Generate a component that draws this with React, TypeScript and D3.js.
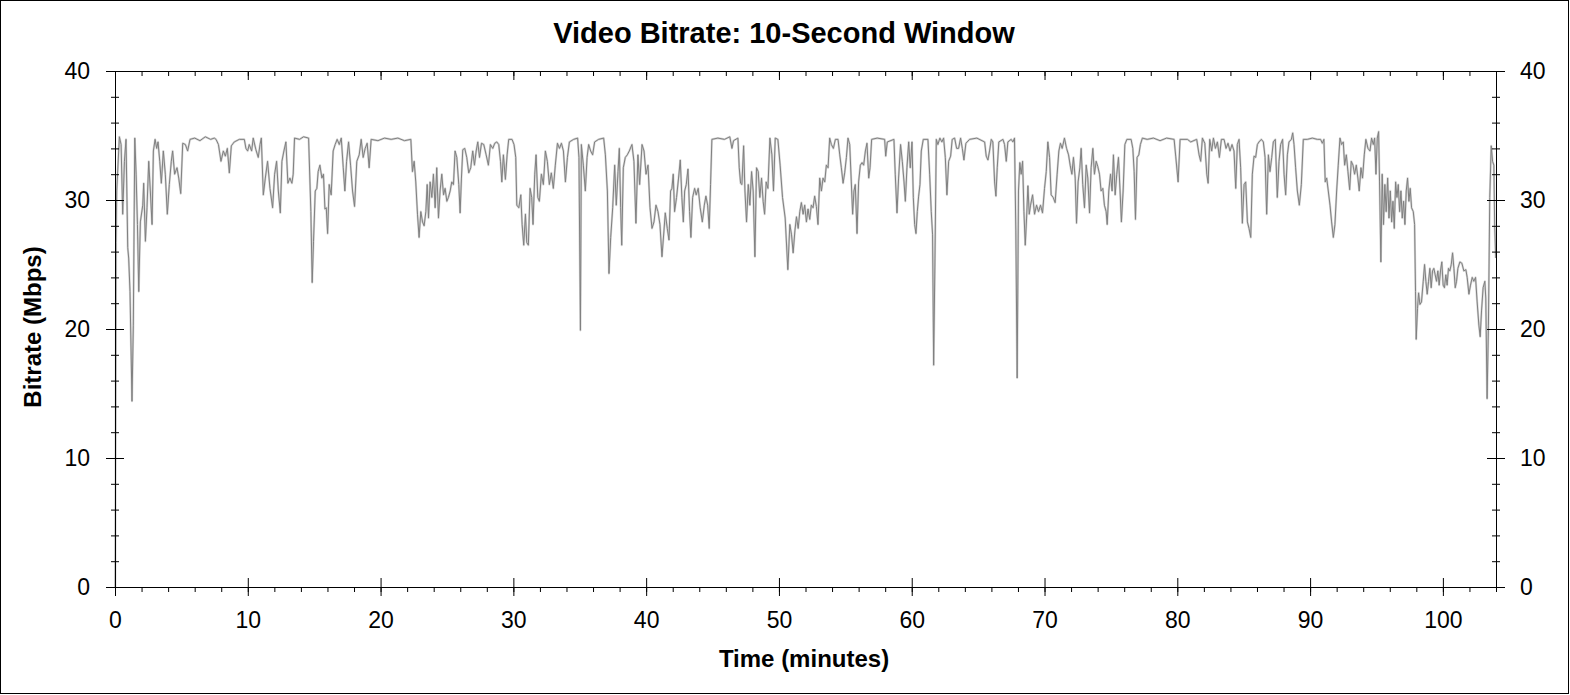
import React from 'react';
import {
  select,
  line,
  range,
  scaleLinear,
  axisBottom,
  axisTop,
  axisLeft,
  axisRight,
} from 'd3';

// time stamps (minutes) of the 10-second window samples
const minutes: number[] = [
  0.02, 0.08, 0.13, 0.33, 0.46, 0.58, 0.71, 0.83, 0.96, 1.03,
  1.13, 1.28, 1.38, 1.49, 1.59, 1.69, 1.79, 1.91, 2.09, 2.16,
  2.29, 2.41, 2.54, 2.66, 2.79, 2.89, 3.02, 3.14, 3.24, 3.37,
  3.49, 3.64, 3.79, 3.94, 4.09, 4.24, 4.34, 4.49, 4.67, 4.8,
  4.95, 5.1, 5.3, 5.47, 5.65, 6.0, 6.4, 6.8, 7.2, 7.48,
  7.61, 7.79, 7.98, 8.16, 8.31, 8.46, 8.61, 8.76, 8.98, 9.36,
  9.74, 9.86, 9.99, 10.11, 10.29, 10.41, 10.61, 10.79, 10.92, 11.02,
  11.17, 11.32, 11.49, 11.67, 11.87, 12.02, 12.17, 12.3, 12.45, 12.57,
  12.72, 12.87, 13.02, 13.17, 13.32, 13.42, 13.52, 13.9, 14.2, 14.58,
  14.75, 14.85, 14.95, 15.08, 15.2, 15.3, 15.43, 15.58, 15.7, 15.81,
  15.91, 16.01, 16.13, 16.28, 16.43, 16.58, 16.73, 16.89, 17.04, 17.19,
  17.31, 17.44, 17.59, 17.74, 17.89, 18.04, 18.21, 18.39, 18.54, 18.69,
  18.84, 18.99, 19.14, 19.29, 19.8, 20.3, 20.8, 21.3, 21.8, 22.28,
  22.4, 22.53, 22.65, 22.78, 22.9, 23.03, 23.16, 23.28, 23.41, 23.51,
  23.61, 23.73, 23.86, 23.98, 24.11, 24.23, 24.36, 24.48, 24.61, 24.74,
  24.86, 24.99, 25.11, 25.24, 25.36, 25.49, 25.61, 25.74, 25.89, 25.99,
  26.09, 26.19, 26.34, 26.49, 26.64, 26.79, 26.94, 27.07, 27.2, 27.32,
  27.45, 27.6, 27.77, 27.95, 28.12, 28.27, 28.45, 28.6, 28.75, 28.9,
  29.03, 29.13, 29.25, 29.4, 29.53, 29.65, 29.9, 30.05, 30.18, 30.26,
  30.41, 30.56, 30.66, 30.78, 30.91, 31.01, 31.13, 31.26, 31.38, 31.48,
  31.61, 31.71, 31.84, 31.96, 32.11, 32.26, 32.41, 32.56, 32.71, 32.86,
  33.01, 33.16, 33.32, 33.47, 33.62, 33.77, 33.92, 34.07, 34.22, 34.54,
  34.84, 34.94, 35.05, 35.12, 35.27, 35.42, 35.55, 35.67, 35.82, 35.97,
  36.12, 36.42, 36.8, 36.93, 37.08, 37.2, 37.33, 37.48, 37.63, 37.75,
  37.88, 37.98, 38.08, 38.16, 38.28, 38.43, 38.58, 38.73, 38.93, 39.08,
  39.23, 39.38, 39.51, 39.69, 39.84, 39.99, 40.14, 40.29, 40.44, 40.59,
  40.74, 40.89, 41.04, 41.19, 41.34, 41.44, 41.59, 41.72, 41.84, 41.94,
  42.04, 42.14, 42.29, 42.44, 42.57, 42.69, 42.8, 42.9, 43.02, 43.15,
  43.27, 43.37, 43.5, 43.65, 43.77, 43.92, 44.07, 44.23, 44.38, 44.5,
  44.63, 44.75, 44.85, 44.95, 45.4, 45.9, 46.3, 46.46, 46.58, 46.91,
  47.01, 47.11, 47.21, 47.34, 47.44, 47.56, 47.69, 47.81, 47.94, 48.06,
  48.19, 48.31, 48.44, 48.56, 48.69, 48.81, 48.92, 49.04, 49.17, 49.32,
  49.47, 49.59, 49.72, 49.92, 50.09, 50.27, 50.47, 50.67, 50.82, 50.95,
  51.07, 51.2, 51.32, 51.45, 51.57, 51.69, 51.82, 51.94, 52.07, 52.19,
  52.32, 52.44, 52.57, 52.69, 52.82, 52.94, 53.07, 53.2, 53.32, 53.45,
  53.57, 53.7, 53.82, 53.95, 54.1, 54.25, 54.45, 54.58, 54.7, 54.83,
  54.95, 55.08, 55.2, 55.33, 55.45, 55.55, 55.65, 55.75, 55.88, 56.0,
  56.13, 56.26, 56.38, 56.51, 56.63, 56.76, 56.86, 56.98, 57.4, 57.96,
  58.04, 58.16, 58.66, 58.76, 58.89, 59.01, 59.16, 59.29, 59.42, 59.52,
  59.64, 59.77, 59.89, 60.02, 60.12, 60.22, 60.32, 60.42, 60.52, 60.62,
  60.72, 60.87, 61.22, 61.35, 61.47, 61.57, 61.65, 61.75, 61.85, 61.97,
  62.12, 62.27, 62.4, 62.53, 62.65, 62.78, 62.93, 63.05, 63.23, 63.38,
  63.53, 63.68, 63.81, 63.93, 64.08, 64.36, 64.9, 65.49, 65.61, 65.74,
  65.86, 65.99, 66.11, 66.24, 66.34, 66.44, 66.56, 66.87, 66.99, 67.12,
  67.24, 67.49, 67.62, 67.74, 67.84, 67.94, 68.04, 68.14, 68.24, 68.35,
  68.45, 68.55, 68.65, 68.75, 68.85, 68.95, 69.1, 69.25, 69.4, 69.55,
  69.7, 69.85, 70.0, 70.13, 70.25, 70.38, 70.5, 70.65, 70.8, 70.95,
  71.08, 71.2, 71.33, 71.5, 71.66, 71.81, 71.93, 72.06, 72.18, 72.31,
  72.41, 72.53, 72.66, 72.76, 72.88, 73.01, 73.14, 73.26, 73.39, 73.51,
  73.64, 73.76, 73.89, 74.01, 74.14, 74.26, 74.39, 74.51, 74.64, 74.72,
  74.84, 74.97, 75.09, 75.19, 75.32, 75.44, 75.57, 75.69, 75.79, 75.92,
  76.05, 76.2, 76.52, 76.65, 76.75, 76.85, 76.97, 77.1, 77.22, 77.37,
  77.73, 78.2, 78.7, 79.2, 79.76, 79.88, 80.06, 80.21, 80.76, 81.01,
  81.46, 81.64, 81.76, 81.89, 82.07, 82.22, 82.32, 82.44, 82.59, 82.72,
  82.87, 83.02, 83.17, 83.32, 83.52, 83.67, 83.82, 83.97, 84.12, 84.27,
  84.4, 84.52, 84.65, 84.77, 84.9, 85.03, 85.15, 85.28, 85.4, 85.53,
  85.65, 85.78, 85.9, 86.03, 86.15, 86.33, 86.48, 86.61, 86.73, 86.86,
  86.98, 87.11, 87.23, 87.38, 87.53, 87.66, 87.78, 87.93, 88.04, 88.16,
  88.29, 88.41, 88.59, 88.69, 88.79, 88.91, 89.04, 89.19, 89.34, 89.49,
  89.79, 90.17, 90.54, 90.79, 90.92, 91.04, 91.14, 91.25, 91.37, 91.5,
  91.62, 91.75, 91.87, 92.0, 92.12, 92.25, 92.37, 92.5, 92.6, 92.73,
  92.85, 92.98, 93.1, 93.23, 93.35, 93.48, 93.6, 93.7, 93.83, 93.95,
  94.08, 94.2, 94.36, 94.51, 94.63, 94.76, 94.86, 94.96, 95.06, 95.16,
  95.23, 95.33, 95.43, 95.53, 95.63, 95.73, 95.84, 95.94, 96.04, 96.14,
  96.24, 96.34, 96.44, 96.54, 96.64, 96.74, 96.84, 96.94, 97.04, 97.14,
  97.24, 97.34, 97.44, 97.54, 97.64, 97.77, 97.87, 97.94, 97.99, 98.09,
  98.17, 98.27, 98.39, 98.52, 98.62, 98.72, 98.82, 98.92, 99.02, 99.12,
  99.22, 99.32, 99.42, 99.52, 99.62, 99.72, 99.82, 99.92, 100.02, 100.12,
  100.22, 100.32, 100.42, 100.52, 100.63, 100.73, 100.83, 100.93, 101.03, 101.13,
  101.28, 101.43, 101.58, 101.73, 101.83, 101.96, 102.08, 102.21, 102.33, 102.46,
  102.58, 102.71, 102.81, 102.91, 103.03, 103.16, 103.23, 103.33, 103.43, 103.53,
  103.64, 103.74, 103.84, 103.9, 103.98,
];

// bitrate (Mbps) at each time stamp
const mbps: number[] = [
  0, 26.7, 30.7, 34.9, 34.3, 28.9, 33.0, 34.7, 26.3, 25.5,
  22.9, 14.4, 20.3, 34.8, 32.0, 28.1, 22.9, 28.3, 29.6, 31.3,
  26.8, 29.4, 33.0, 30.7, 28.1, 33.8, 34.7, 34.0, 34.5, 33.0,
  31.3, 33.8, 32.0, 28.9, 31.2, 33.0, 33.8, 32.0, 32.5, 31.7,
  30.5, 34.4, 34.3, 33.8, 34.7, 34.8, 34.6, 34.9, 34.7, 34.8,
  34.7, 34.3, 33.0, 33.8, 33.4, 34.0, 32.1, 34.2, 34.5, 34.7,
  34.7, 34.0, 33.8, 34.3, 33.8, 34.8, 33.9, 33.3, 34.3, 34.8,
  30.4, 31.7, 33.0, 30.9, 29.4, 32.0, 33.0, 30.7, 29.0, 33.0,
  33.8, 34.5, 31.3, 31.7, 31.3, 32.0, 34.8, 34.7, 34.9, 34.8,
  29.1, 23.6, 26.8, 30.7, 30.9, 32.2, 32.7, 31.7, 32.0, 29.3,
  29.4, 27.4, 31.2, 30.4, 33.8, 34.3, 34.7, 34.3, 34.8, 32.5,
  30.7, 33.0, 34.5, 32.7, 30.7, 29.5, 33.0, 33.5, 34.7, 33.3,
  34.0, 34.4, 32.5, 34.7, 34.6, 34.8, 34.7, 34.8, 34.6, 34.7,
  32.2, 33.0, 31.4, 28.9, 27.1, 29.1, 28.3, 28.0, 29.1, 31.2,
  28.6, 31.4, 30.2, 32.0, 29.4, 32.5, 28.6, 30.7, 32.0, 30.4,
  30.9, 29.9, 30.2, 30.7, 31.4, 31.2, 33.8, 33.3, 31.2, 29.0,
  31.7, 33.9, 34.0, 33.3, 32.1, 32.5, 33.8, 32.7, 33.8, 34.5,
  33.3, 34.4, 34.3, 33.5, 32.7, 34.3, 34.0, 34.4, 34.5, 34.3,
  33.0, 31.4, 33.5, 31.6, 33.5, 34.7, 34.7, 34.3, 33.3, 29.6,
  29.4, 30.4, 28.1, 26.5, 28.9, 26.7, 26.5, 30.9, 30.2, 28.1,
  32.0, 33.5, 30.2, 29.9, 32.0, 31.2, 33.8, 33.0, 31.2, 32.1,
  30.9, 32.7, 34.4, 34.0, 34.4, 33.8, 31.4, 33.3, 34.5, 34.7,
  34.8, 33.3, 19.9, 34.3, 32.7, 30.7, 33.3, 34.3, 33.8, 33.5,
  34.5, 34.7, 34.8, 33.5, 30.7, 24.3, 27.1, 29.4, 32.7, 29.6,
  32.2, 34.0, 29.4, 26.5, 32.5, 33.3, 33.5, 33.8, 34.3, 33.0,
  28.2, 33.5, 31.2, 34.3, 33.8, 32.0, 32.7, 29.4, 27.8, 28.3,
  29.6, 29.1, 28.1, 25.6, 27.6, 29.0, 27.8, 26.9, 30.7, 30.9,
  32.0, 29.1, 30.2, 31.7, 33.1, 30.2, 28.3, 30.7, 31.2, 32.4,
  29.1, 27.1, 30.2, 30.9, 30.4, 30.9, 29.4, 28.3, 29.6, 30.3,
  29.6, 27.8, 31.2, 34.7, 34.8, 34.7, 34.9, 34.0, 34.6, 34.8,
  32.5, 31.3, 31.2, 34.2, 30.7, 28.3, 31.2, 29.6, 32.2, 30.7,
  25.6, 32.5, 32.2, 30.2, 31.7, 29.9, 28.9, 31.4, 30.9, 34.8,
  33.5, 30.7, 34.8, 34.7, 32.7, 30.2, 28.6, 24.6, 28.1, 27.3,
  25.9, 27.6, 28.7, 27.8, 29.1, 29.8, 28.9, 29.6, 28.3, 29.3,
  28.5, 29.6, 29.4, 30.3, 29.5, 28.1, 31.7, 30.7, 31.7, 31.4,
  32.7, 32.5, 34.8, 34.3, 34.0, 34.7, 34.7, 33.5, 32.5, 31.3,
  32.1, 33.3, 34.8, 34.3, 31.4, 28.9, 30.7, 31.2, 27.4, 31.4,
  32.7, 32.9, 32.7, 33.8, 34.4, 31.7, 32.5, 34.7, 34.8, 34.7,
  33.4, 34.5, 34.7, 32.0, 29.0, 31.7, 34.3, 33.0, 31.4, 29.9,
  32.5, 34.5, 32.5, 34.5, 30.2, 28.1, 27.4, 29.1, 30.3, 31.2,
  33.8, 34.7, 34.7, 32.0, 29.1, 27.3, 17.2, 25.5, 34.7, 34.3,
  34.8, 34.5, 34.8, 33.3, 30.4, 33.0, 33.4, 34.7, 34.8, 34.0,
  34.0, 34.8, 34.0, 33.1, 34.4, 34.7, 34.8, 34.5, 33.4, 33.1,
  33.8, 34.7, 34.5, 31.4, 30.3, 32.5, 34.5, 34.7, 34.3, 33.0,
  34.5, 34.7, 34.5, 34.8, 27.6, 16.2, 30.7, 32.9, 32.0, 33.0,
  29.1, 26.5, 28.6, 31.1, 28.9, 29.6, 30.4, 28.9, 29.6, 29.1,
  29.6, 29.0, 30.9, 32.2, 34.5, 33.3, 30.4, 30.2, 29.8, 32.0,
  33.8, 34.4, 34.0, 34.8, 34.0, 33.5, 32.7, 32.0, 33.3, 31.7,
  28.2, 31.4, 32.5, 34.0, 31.2, 29.4, 32.7, 31.7, 29.0, 32.5,
  34.0, 32.0, 33.0, 32.6, 32.0, 30.7, 30.9, 29.6, 29.1, 28.1,
  30.7, 32.0, 30.7, 33.5, 30.4, 32.0, 33.3, 30.7, 28.3, 30.7,
  34.3, 34.7, 34.7, 34.0, 32.2, 28.5, 33.3, 33.5, 34.3, 34.8,
  34.7, 34.8, 34.6, 34.8, 34.7, 33.4, 31.4, 34.7, 34.7, 34.5,
  34.7, 33.5, 33.0, 34.8, 34.4, 32.0, 31.3, 34.7, 33.8, 34.8,
  34.0, 34.5, 33.3, 34.7, 34.7, 34.0, 34.4, 33.8, 34.3, 33.8,
  30.9, 34.3, 34.7, 32.5, 28.2, 31.2, 31.4, 28.3, 27.8, 27.1,
  32.0, 33.4, 33.3, 34.3, 34.5, 34.7, 34.5, 33.3, 28.9, 33.5,
  32.2, 33.3, 34.5, 34.7, 30.2, 33.0, 34.3, 34.7, 32.0, 30.4,
  33.5, 34.5, 34.7, 35.2, 34.3, 32.5, 30.7, 29.6, 31.2, 34.7,
  34.7, 34.8, 34.7, 34.7, 34.4, 34.7, 31.4, 31.7, 30.7, 29.6,
  28.3, 27.1, 28.1, 30.7, 32.7, 34.8, 34.3, 34.5, 32.7, 33.5,
  32.2, 30.8, 33.0, 32.7, 32.0, 32.7, 31.7, 30.7, 32.5, 31.7,
  33.5, 34.7, 34.0, 33.8, 34.8, 34.3, 34.8, 32.0, 34.8, 35.3,
  31.4, 25.2, 32.0, 28.1, 31.2, 29.1, 31.7, 28.6, 30.7, 28.3,
  29.9, 27.8, 31.4, 30.2, 31.2, 29.1, 30.7, 28.6, 29.9, 28.1,
  30.7, 31.7, 29.9, 30.9, 29.4, 29.1, 28.1, 22.9, 19.2, 21.6,
  22.8, 21.9, 22.1, 23.7, 25.0, 23.7, 22.7, 23.7, 24.7, 23.2,
  24.5, 24.7, 24.2, 23.7, 24.5, 23.4, 24.5, 25.2, 23.4, 23.2,
  24.2, 23.4, 24.7, 24.5, 25.0, 25.9, 24.7, 23.2, 23.7, 24.7,
  25.2, 25.1, 24.5, 24.6, 24.0, 22.7, 23.4, 24.0, 23.7, 24.0,
  22.1, 20.3, 19.4, 21.4, 23.2, 23.7, 22.4, 14.6, 20.3, 30.2,
  34.2, 33.0, 32.7, 28.0, 25.5,
];

const xMajorTicks = [0, 10, 20, 30, 40, 50, 60, 70, 80, 90, 100];
const xMinorTicks = range(0, 105, 2);
const yMajorTicks = [0, 10, 20, 30, 40];
const yMinorTicks = range(0, 41, 2);

const FONT = '"Liberation Sans", Arial, Helvetica, sans-serif';

const App: React.FC = () => {
  const svgRef = React.useRef<SVGSVGElement>(null);

  React.useEffect(() => {
    const svg = select(svgRef.current);
    svg.selectAll('.plot').remove();
    const plot = svg.append('g').attr('class', 'plot');

    const xScale = scaleLinear().domain([0, 104]).range([115, 1496]);
    const yScale = scaleLinear().domain([0, 40]).range([587, 71]);

    const points = minutes.map((t, i) => [t, mbps[i]] as [number, number]);
    const bitrateLine = line<[number, number]>()
      .x(d => xScale(d[0]))
      .y(d => yScale(d[1]));

    // soft halo under the trace, then the trace itself
    plot
      .append('path')
      .datum(points)
      .attr('d', bitrateLine)
      .attr('fill', 'none')
      .attr('stroke', '#d6d6d6')
      .attr('stroke-width', 2.2)
      .attr('stroke-linejoin', 'round');
    plot
      .append('path')
      .datum(points)
      .attr('d', bitrateLine)
      .attr('fill', 'none')
      .attr('stroke', '#808080')
      .attr('stroke-width', 1);

    plot
      .append('rect')
      .attr('x', 115.5)
      .attr('y', 71.5)
      .attr('width', 1381)
      .attr('height', 516)
      .attr('fill', 'none')
      .attr('stroke', '#000');

    const addAxis = (axis: any, transform: string) => {
      const g = plot.append('g').attr('transform', transform).call(axis);
      g.select('.domain').remove();
      g.selectAll('line').attr('stroke', '#000');
      g.selectAll('text')
        .attr('font-family', FONT)
        .attr('font-size', 23)
        .attr('fill', '#000');
      return g;
    };
    const blank = () => '';

    // bottom: major ticks cross the axis, minor ones hang below
    addAxis(axisBottom(xScale).tickValues(xMajorTicks).tickSize(9).tickPadding(16), 'translate(0,587)');
    addAxis(axisTop(xScale).tickValues(xMajorTicks).tickSize(9).tickFormat(blank), 'translate(0,587)');
    addAxis(axisBottom(xScale).tickValues(xMinorTicks).tickSize(5).tickFormat(blank), 'translate(0,587)');

    // top: ticks point into the plot
    addAxis(axisBottom(xScale).tickValues(xMajorTicks).tickSize(9).tickFormat(blank), 'translate(0,71)');
    addAxis(axisBottom(xScale).tickValues(xMinorTicks).tickSize(5).tickFormat(blank), 'translate(0,71)');

    // left
    addAxis(axisLeft(yScale).tickValues(yMajorTicks).tickSize(9).tickPadding(16), 'translate(115,0)');
    addAxis(axisRight(yScale).tickValues(yMajorTicks).tickSize(9).tickFormat(blank), 'translate(115,0)');
    addAxis(axisLeft(yScale).tickValues(yMinorTicks).tickSize(4).tickFormat(blank), 'translate(115,0)');
    addAxis(axisRight(yScale).tickValues(yMinorTicks).tickSize(4).tickFormat(blank), 'translate(115,0)');

    // right
    addAxis(axisRight(yScale).tickValues(yMajorTicks).tickSize(9).tickPadding(15), 'translate(1496,0)');
    addAxis(axisLeft(yScale).tickValues(yMajorTicks).tickSize(9).tickFormat(blank), 'translate(1496,0)');
    addAxis(axisRight(yScale).tickValues(yMinorTicks).tickSize(4).tickFormat(blank), 'translate(1496,0)');
    addAxis(axisLeft(yScale).tickValues(yMinorTicks).tickSize(4).tickFormat(blank), 'translate(1496,0)');
  }, []);

  return (
    <>
      <style>{'body{margin:0}'}</style>
      <svg ref={svgRef} width={1570} height={695} style={{ display: 'block', background: '#fff' }}>
        <rect x={0.5} y={0.5} width={1568} height={693} fill='#fff' stroke='#000' />
        <text x={784} y={43} textAnchor='middle' fontFamily={FONT} fontWeight='bold' fontSize={29}>
          Video Bitrate: 10-Second Window
        </text>
        <text x={804} y={667} textAnchor='middle' fontFamily={FONT} fontWeight='bold' fontSize={24}>
          Time (minutes)
        </text>
        <text
          transform='translate(41,327) rotate(-90)'
          textAnchor='middle'
          fontFamily={FONT}
          fontWeight='bold'
          fontSize={24}
        >
          Bitrate (Mbps)
        </text>
      </svg>
    </>
  );
};

export default App;
